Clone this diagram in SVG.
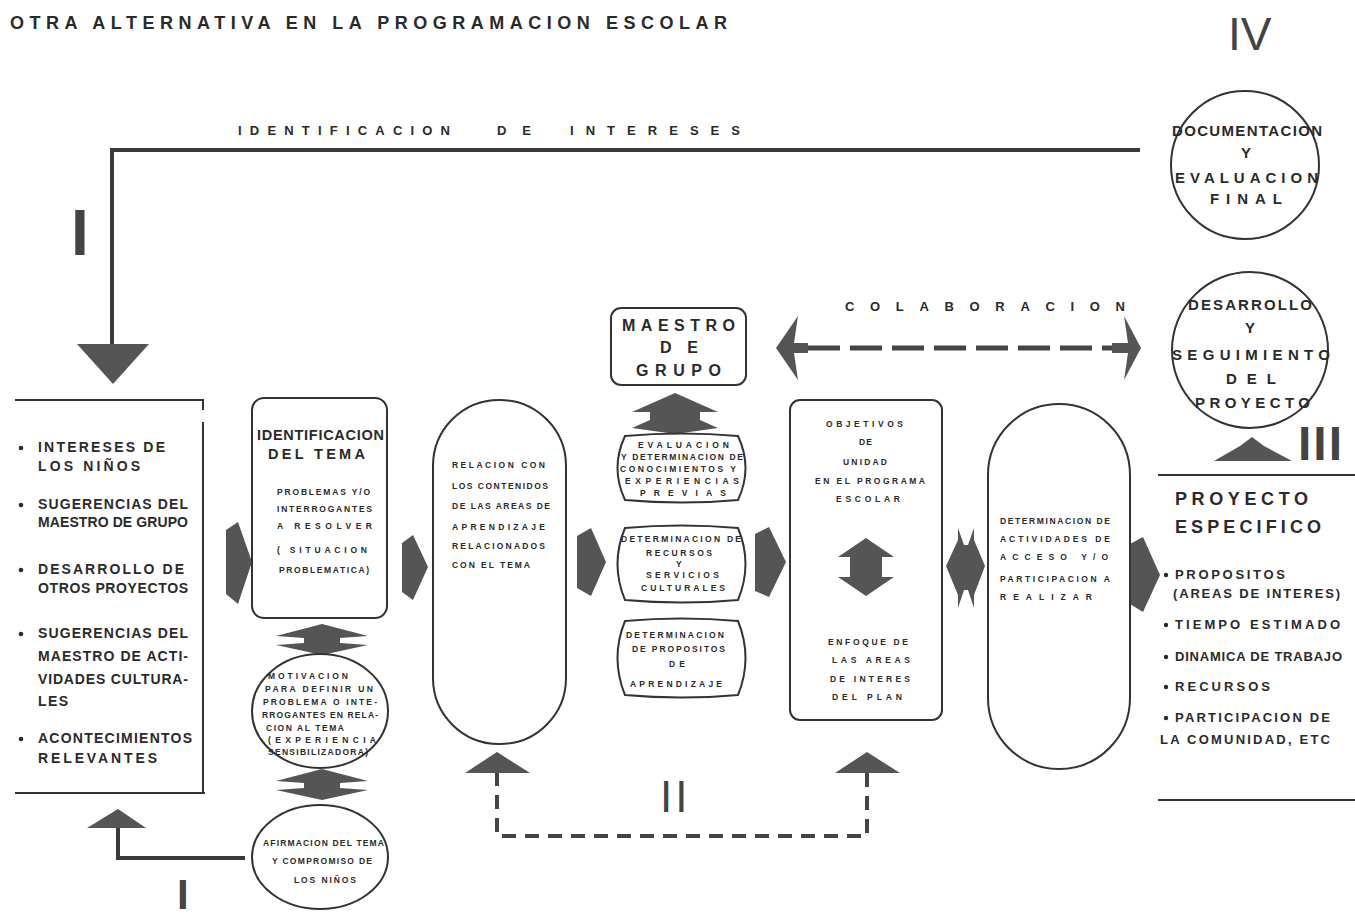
<svg xmlns="http://www.w3.org/2000/svg" width="1355" height="919" viewBox="0 0 1355 919">
<style>
.t{font-family:"Liberation Sans",Arial,sans-serif;font-weight:bold;fill:#2a2a2a}
.s{font-size:8.5px}
.m{font-size:14px}
.b{fill:none;stroke:#333;stroke-width:2}
.ln{fill:none;stroke:#3a3a3a;stroke-width:4}
.a{fill:#555}
.d{fill:none;stroke:#444;stroke-width:4;stroke-dasharray:14 9}
.num{font-family:"Liberation Sans",Arial,sans-serif;fill:#444}
</style>
<rect width="1355" height="919" fill="#fff"/>
<text class="t" x="10" y="29" font-size="18" textLength="717" lengthAdjust="spacing">OTRA ALTERNATIVA EN LA PROGRAMACION ESCOLAR</text>
<text class="num" x="1228" y="50" font-size="46">IV</text>
<text class="num" x="71" y="255" font-size="64" font-weight="bold">I</text>
<text class="num" x="177" y="909" font-size="42" font-weight="bold">I</text>
<text class="num" x="660" y="812" font-size="44" letter-spacing="3">II</text>
<text class="num" x="1298" y="460" font-size="48" font-weight="bold" letter-spacing="2">III</text>
<g class="t" font-size="13">
<text x="238" y="135" textLength="212" lengthAdjust="spacing">IDENTIFICACION</text>
<text x="497" y="135" textLength="34" lengthAdjust="spacing">DE</text>
<text x="570" y="135" textLength="170" lengthAdjust="spacing">INTERESES</text>
<text x="845" y="311" textLength="280" lengthAdjust="spacing">COLABORACION</text>
</g>

<g id="connectors">
<polyline class="ln" points="1140,150 112,150 112,346"/>
<polygon class="a" points="77,344 149,344 113,384"/>
<polyline class="ln" points="245,858 118,858 118,826"/>
<polygon class="a" points="87,828 146,828 118,809"/>
<polygon class="a" points="226,530 238,522 252,562 238,604 226,594"/>
<polygon class="a" points="402,543 413,535 428,567 413,600 402,592"/>
<polygon class="a" points="577,536 591,528 606,562 591,596 577,588"/>
<polygon class="a" points="755,534 769,527 786,562 769,597 755,591"/>
<polygon class="a" points="1130,544 1143,537 1160,575 1143,612 1130,604"/>
<path class="a" d="M322 624 L368 636 L340 638 L340 643 L368 645 L322 655 L276 645 L304 643 L304 638 L276 636 Z"/>
<path class="a" d="M322 769 L368 781 L340 783 L340 788 L368 790 L322 800 L276 790 L304 788 L304 783 L276 781 Z"/>
<path class="a" d="M675 393 L718 412 L700 412 L700 420 L718 428 L675 434 L632 428 L650 420 L650 412 L632 412 Z"/>
<path class="a" d="M866 538 L894 557 L882 557 L882 577 L894 577 L866 596 L838 577 L850 577 L850 557 L838 557 Z"/>
<polygon class="a" points="946,566 958,540 958,528 964,545 968,545 974,528 974,540 985,566 974,595 974,608 968,590 964,590 958,608 958,595"/>
<polygon class="a" points="1214,461 1240,446 1252,437 1264,446 1292,461"/>
<line x1="808" y1="348" x2="1115" y2="348" stroke="#444" stroke-width="5" stroke-dasharray="32 10"/>
<polygon class="a" points="776,348 798,316 794,343 808,343 808,353 794,353 798,380"/>
<polygon class="a" points="1141,348 1124,316 1128,343 1112,343 1112,353 1128,353 1124,380"/>
<polyline class="d" points="497,772 497,836 867,836 867,772"/>
<polygon class="a" points="465,773 530,773 497,752"/>
<polygon class="a" points="835,773 900,773 867,752"/>
</g>

<g id="origen">
<polyline class="b" stroke-width="3" points="15,400 203,400 203,410"/>
<line class="b" x1="203" y1="422" x2="203" y2="793"/>
<line class="b" stroke-width="3" x1="15" y1="793" x2="205" y2="793"/>
<g class="t m">
<circle cx="21" cy="448" r="2.3"/><text x="38" y="452" textLength="127" lengthAdjust="spacing">INTERESES DE</text>
<text x="38" y="471" textLength="102" lengthAdjust="spacing">LOS NIÑOS</text>
<circle cx="21" cy="505" r="2.3"/><text x="38" y="509" textLength="150" lengthAdjust="spacing">SUGERENCIAS DEL</text>
<text x="38" y="527" textLength="150" lengthAdjust="spacing">MAESTRO DE GRUPO</text>
<circle cx="21" cy="570" r="2.3"/><text x="38" y="574" textLength="146" lengthAdjust="spacing">DESARROLLO  DE</text>
<text x="38" y="593" textLength="150" lengthAdjust="spacing">OTROS PROYECTOS</text>
<circle cx="21" cy="634" r="2.3"/><text x="38" y="638" textLength="150" lengthAdjust="spacing">SUGERENCIAS DEL</text>
<text x="38" y="661" textLength="150" lengthAdjust="spacing">MAESTRO DE ACTI-</text>
<text x="38" y="684" textLength="150" lengthAdjust="spacing">VIDADES CULTURA-</text>
<text x="38" y="706" textLength="30" lengthAdjust="spacing">LES</text>
<circle cx="21" cy="739" r="2.3"/><text x="38" y="743" textLength="154" lengthAdjust="spacing">ACONTECIMIENTOS</text>
<text x="38" y="763" textLength="119" lengthAdjust="spacing">RELEVANTES</text>
</g>
</g>

<g id="identificacion">
<rect class="b" x="252" y="398" width="135" height="220" rx="12"/>
<text class="t" font-size="14.5" x="257" y="440" textLength="127" lengthAdjust="spacing">IDENTIFICACION</text>
<text class="t" font-size="14.5" x="268" y="459" textLength="97" lengthAdjust="spacing">DEL  TEMA</text>
<g class="t s">
<text x="277" y="495" textLength="93" lengthAdjust="spacing">PROBLEMAS Y/O</text>
<text x="277" y="512" textLength="95" lengthAdjust="spacing">INTERROGANTES</text>
<text x="277" y="529" textLength="95" lengthAdjust="spacing">A RESOLVER</text>
<text x="277" y="553" textLength="90" lengthAdjust="spacing">( SITUACION</text>
<text x="279" y="573" textLength="90" lengthAdjust="spacing">PROBLEMATICA)</text>
</g>
</g>

<g id="motivacion">
<ellipse class="b" cx="320" cy="711" rx="68" ry="57"/>
<g class="t s" font-size="8">
<text x="268" y="679" textLength="80" lengthAdjust="spacing">MOTIVACION</text>
<text x="265" y="692" textLength="108" lengthAdjust="spacing">PARA DEFINIR UN</text>
<text x="263" y="705" textLength="114" lengthAdjust="spacing">PROBLEMA O INTE-</text>
<text x="262" y="718" textLength="116" lengthAdjust="spacing">RROGANTES EN RELA-</text>
<text x="266" y="731" textLength="78" lengthAdjust="spacing">CION AL TEMA</text>
<text x="268" y="743" textLength="108" lengthAdjust="spacing">(EXPERIENCIA</text>
<text x="268" y="755" textLength="100" lengthAdjust="spacing">SENSIBILIZADORA)</text>
</g>
</g>

<g id="afirmacion">
<ellipse class="b" cx="320" cy="857" rx="68" ry="52"/>
<g class="t s">
<text x="263" y="846" textLength="121" lengthAdjust="spacing">AFIRMACION DEL TEMA</text>
<text x="272" y="864" textLength="100" lengthAdjust="spacing">Y COMPROMISO DE</text>
<text x="294" y="883" textLength="62" lengthAdjust="spacing">LOS NIÑOS</text>
</g>
</g>

<g id="relacion">
<rect class="b" x="433" y="400" width="133" height="344" rx="66"/>
<g class="t s">
<text x="452" y="468" textLength="93" lengthAdjust="spacing">RELACION  CON</text>
<text x="452" y="489" textLength="96" lengthAdjust="spacing">LOS CONTENIDOS</text>
<text x="452" y="509" textLength="98" lengthAdjust="spacing">DE LAS AREAS DE</text>
<text x="452" y="530" textLength="93" lengthAdjust="spacing">APRENDIZAJE</text>
<text x="452" y="549" textLength="93" lengthAdjust="spacing">RELACIONADOS</text>
<text x="452" y="568" textLength="78" lengthAdjust="spacing">CON EL TEMA</text>
</g>
</g>

<g id="maestro">
<rect class="b" x="611" y="308" width="135" height="77" rx="10"/>
<g class="t" font-size="16">
<text x="622" y="331" textLength="113" lengthAdjust="spacing">MAESTRO</text>
<text x="660" y="353" textLength="38" lengthAdjust="spacing">DE</text>
<text x="636" y="376" textLength="85" lengthAdjust="spacing">GRUPO</text>
</g>
</g>

<g id="evaluacion">
<path class="b" d="M625 436 Q681 431 738 436 Q753 468 738 500 Q681 505 625 500 Q610 468 625 436 Z"/>
<g class="t s" font-size="8">
<text x="638" y="448" textLength="91" lengthAdjust="spacing">EVALUACION</text>
<text x="621" y="460" textLength="122" lengthAdjust="spacing">Y DETERMINACION DE</text>
<text x="620" y="472" textLength="116" lengthAdjust="spacing">CONOCIMIENTOS  Y</text>
<text x="625" y="484" textLength="114" lengthAdjust="spacing">EXPERIENCIAS</text>
<text x="640" y="496" textLength="86" lengthAdjust="spacing">PREVIAS</text>
</g>
</g>

<g id="recursos">
<path class="b" d="M625 528 Q681 523 738 528 Q753 564 738 600 Q681 605 625 600 Q610 564 625 528 Z"/>
<g class="t s" font-size="8">
<text x="621" y="542" textLength="120" lengthAdjust="spacing">DETERMINACION DE</text>
<text x="646" y="556" textLength="66" lengthAdjust="spacing">RECURSOS</text>
<text x="676" y="567">Y</text>
<text x="646" y="578" textLength="73" lengthAdjust="spacing">SERVICIOS</text>
<text x="641" y="591" textLength="84" lengthAdjust="spacing">CULTURALES</text>
</g>
</g>

<g id="propositos">
<path class="b" d="M625 621 Q681 616 738 621 Q753 658 738 695 Q681 700 625 695 Q610 658 625 621 Z"/>
<g class="t s" font-size="8">
<text x="626" y="638" textLength="98" lengthAdjust="spacing">DETERMINACION</text>
<text x="632" y="652" textLength="93" lengthAdjust="spacing">DE PROPOSITOS</text>
<text x="669" y="667" textLength="16" lengthAdjust="spacing">DE</text>
<text x="630" y="687" textLength="92" lengthAdjust="spacing">APRENDIZAJE</text>
</g>
</g>

<g id="objetivos">
<rect class="b" x="790" y="400" width="152" height="320" rx="10"/>
<g class="t s">
<text x="826" y="427" textLength="77" lengthAdjust="spacing">OBJETIVOS</text>
<text x="859" y="445" textLength="13" lengthAdjust="spacing">DE</text>
<text x="843" y="465" textLength="44" lengthAdjust="spacing">UNIDAD</text>
<text x="815" y="484" textLength="110" lengthAdjust="spacing">EN EL PROGRAMA</text>
<text x="836" y="502" textLength="64" lengthAdjust="spacing">ESCOLAR</text>
<text x="828" y="645" textLength="80" lengthAdjust="spacing">ENFOQUE DE</text>
<text x="832" y="663" textLength="78" lengthAdjust="spacing">LAS AREAS</text>
<text x="830" y="682" textLength="80" lengthAdjust="spacing">DE  INTERES</text>
<text x="832" y="700" textLength="70" lengthAdjust="spacing">DEL PLAN</text>
</g>
</g>

<g id="actividades">
<rect class="b" x="988" y="404" width="142" height="365" rx="71"/>
<g class="t s">
<text x="1000" y="524" textLength="110" lengthAdjust="spacing">DETERMINACION DE</text>
<text x="1000" y="542" textLength="110" lengthAdjust="spacing">ACTIVIDADES  DE</text>
<text x="1000" y="560" textLength="108" lengthAdjust="spacing">ACCESO   Y/O</text>
<text x="1000" y="582" textLength="110" lengthAdjust="spacing">PARTICIPACION A</text>
<text x="1000" y="600" textLength="92" lengthAdjust="spacing">REALIZAR</text>
</g>
</g>

<g id="documentacion">
<circle class="b" cx="1245" cy="165" r="74"/>
<g class="t" font-size="15">
<text x="1172" y="136" textLength="150" lengthAdjust="spacing">DOCUMENTACION</text>
<text x="1241" y="158">Y</text>
<text x="1175" y="183" textLength="143" lengthAdjust="spacing">EVALUACION</text>
<text x="1210" y="204" textLength="72" lengthAdjust="spacing">FINAL</text>
</g>
</g>

<g id="desarrollo">
<circle class="b" cx="1250" cy="350" r="78"/>
<g class="t" font-size="15">
<text x="1188" y="310" textLength="124" lengthAdjust="spacing">DESARROLLO</text>
<text x="1245" y="333">Y</text>
<text x="1172" y="360" textLength="158" lengthAdjust="spacing">SEGUIMIENTO</text>
<text x="1226" y="384" textLength="50" lengthAdjust="spacing">DEL</text>
<text x="1195" y="408" textLength="115" lengthAdjust="spacing">PROYECTO</text>
</g>
</g>

<g id="proyecto">
<line class="b" stroke-width="2.5" x1="1158" y1="475" x2="1355" y2="475"/>
<line class="b" stroke-width="2.5" x1="1158" y1="800" x2="1355" y2="800"/>
<text class="t" font-size="18" x="1175" y="505" textLength="133" lengthAdjust="spacing">PROYECTO</text>
<text class="t" font-size="18" x="1175" y="533" textLength="146" lengthAdjust="spacing">ESPECIFICO</text>
<g class="t" font-size="13">
<circle cx="1166" cy="575" r="2.2"/><text x="1175" y="579" textLength="110" lengthAdjust="spacing">PROPOSITOS</text>
<text x="1173" y="598" textLength="167" lengthAdjust="spacing">(AREAS DE INTERES)</text>
<circle cx="1166" cy="625" r="2.2"/><text x="1175" y="629" textLength="165" lengthAdjust="spacing">TIEMPO  ESTIMADO</text>
<circle cx="1166" cy="657" r="2.2"/><text x="1175" y="661" textLength="167" lengthAdjust="spacing">DINAMICA DE TRABAJO</text>
<circle cx="1166" cy="687" r="2.2"/><text x="1175" y="691" textLength="95" lengthAdjust="spacing">RECURSOS</text>
<circle cx="1166" cy="718" r="2.2"/><text x="1175" y="722" textLength="155" lengthAdjust="spacing">PARTICIPACION DE</text>
<text x="1160" y="744" textLength="170" lengthAdjust="spacing">LA COMUNIDAD, ETC</text>
</g>
</g>
</svg>
